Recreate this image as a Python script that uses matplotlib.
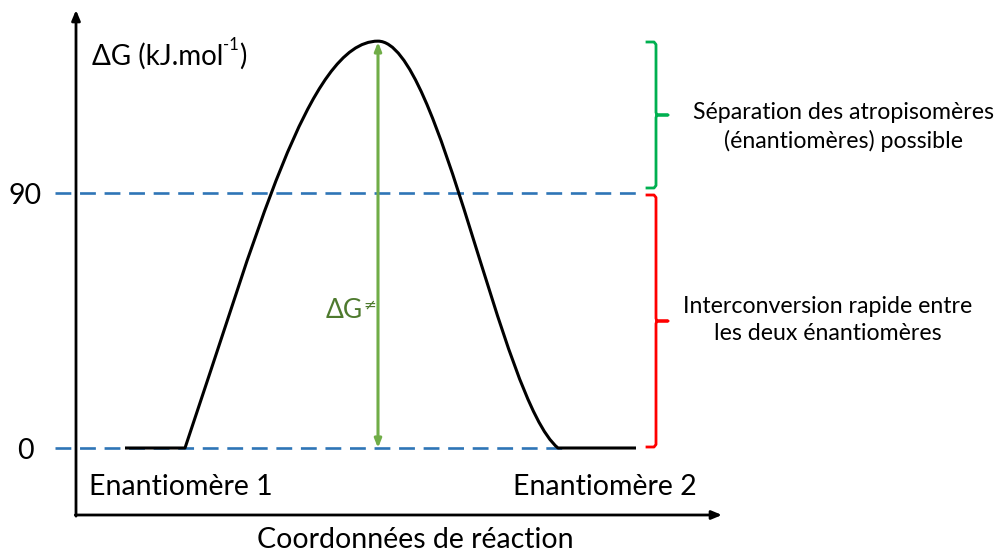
"""Energy profile for atropisomer interconversion (ΔG vs reaction coordinate)."""

import matplotlib
matplotlib.use("Agg")
import matplotlib.pyplot as plt
from matplotlib.path import Path
from matplotlib.patches import PathPatch

# ---------------------------------------------------------------------------
# Data (reaction coordinate in arbitrary units, energy in kJ/mol)
# ---------------------------------------------------------------------------
# flat wells on each side of the barrier
well_left_x = [125, 185]
well_right_x = [558, 636]
well_g = [0, 0]

# barrier drawn as two cubic Bezier flanks (start, ctrl1, ctrl2, end)
rise_x = [185, 255.6, 308, 378]
rise_g = [0, 73.6, 143.6, 143.6]
fall_x = [378, 440, 500, 558]
fall_g = [143.6, 143.6, 16.9, 0]

threshold = 90           # kJ/mol, separation limit
barrier_x = 378
barrier_top = 143.3

ytick_values = [0, 90]
ytick_labels = ["0", "90"]
state_labels = ["Enantiomère 1", "Enantiomère 2"]
state_x = [181, 605]

zone_text_top = "Séparation des atropisomères\n(énantiomères) possible"
zone_text_bottom = "Interconversion rapide entre\nles deux énantiomères"

# colours
BLUE = "#2E75B6"
GREEN_ARROW = "#70AD47"
GREEN_TEXT = "#4E7A2E"
GREEN_BRACE = "#00B050"
RED = "#FF0000"

plt.rcParams["font.family"] = ["Lato", "DejaVu Sans"]

# layout: 2.8333 px per kJ, zero level at 448 px from the top
PX = 2.8333
Y0 = 448
fig = plt.figure(figsize=(10.02, 5.51), dpi=100)
ax = fig.add_axes([0, 0, 1, 1])
ax.set_xlim(0, 1002)
ax.set_ylim((Y0 - 551) / PX, Y0 / PX)
ax.axis("off")


def g_at(py):
    return (Y0 - py) / PX


# axes with arrows
x_axis_g = g_at(515)
ax.annotate("", xy=(76, g_at(10)), xytext=(76, x_axis_g - 0.4),
            arrowprops=dict(arrowstyle="-|>,head_length=0.6,head_width=0.25",
                            color="black", lw=2.0, shrinkA=0, shrinkB=0))
ax.annotate("", xy=(722, x_axis_g), xytext=(75.3, x_axis_g),
            arrowprops=dict(arrowstyle="-|>,head_length=0.6,head_width=0.25",
                            color="black", lw=2.0, shrinkA=0, shrinkB=0))

# dashed reference levels
ax.plot([55, 640], [threshold, threshold], color=BLUE, lw=1.9,
        dashes=(6, 3.3), zorder=2)
ax.plot([55, 570], [0, 0], color=BLUE, lw=1.9, dashes=(6, 3.3), zorder=2)

# energy profile
verts = ([(well_left_x[0], well_g[0])]
         + list(zip(rise_x, rise_g))
         + list(zip(fall_x[1:], fall_g[1:]))
         + [(well_right_x[1], well_g[1])])
codes = ([Path.MOVETO, Path.LINETO] + [Path.CURVE4] * 3
         + [Path.CURVE4] * 3 + [Path.LINETO])
ax.add_patch(PathPatch(Path(verts, codes), facecolor="none",
                       edgecolor="black", lw=2.2, joinstyle="round", zorder=3))

# barrier arrow
ax.annotate("", xy=(barrier_x, barrier_top), xytext=(barrier_x, 0),
            arrowprops=dict(arrowstyle="<|-|>,head_length=0.5,head_width=0.2",
                            color=GREEN_ARROW, lw=2.2, shrinkA=0, shrinkB=0),
            zorder=4)
dg = ax.text(326, g_at(318), "ΔG", ha="left", va="baseline",
             fontsize=19, color=GREEN_TEXT)
ax.annotate("≠", xy=(1, 0.42), xycoords=dg, xytext=(0.3, 0),
            textcoords="offset points", ha="left", va="bottom",
            fontsize=11, color=GREEN_TEXT, family=["DejaVu Sans"])


def brace(x, top, bottom, color):
    mid = (top + bottom) / 2
    t = 2.5 / PX
    xs = [x - 9, x - 2, x, x, x + 1, x + 12, x + 1, x, x, x - 2, x - 9]
    ys = [top, top, top - t, mid + t, mid, mid, mid, mid - t, bottom + t, bottom, bottom]
    ax.plot(xs, ys, color=color, lw=2.0, solid_joinstyle="round")


brace(656, g_at(42), g_at(188), GREEN_BRACE)
brace(656, g_at(195), g_at(447), RED)

ax.text(844, g_at(127), zone_text_top, ha="center", va="center",
        fontsize=16.7, linespacing=1.34)
ax.text(828, g_at(320), zone_text_bottom, ha="center", va="center",
        fontsize=16.7, linespacing=1.3)

# y label with superscript
lab = ax.text(92, g_at(65), "ΔG (kJ.mol", ha="left", va="baseline",
              fontsize=20)
sup = ax.annotate("-1", xy=(1, 0.62), xycoords=lab, ha="left", va="bottom",
                  fontsize=12)
ax.annotate(")", xy=(1, 0), xycoords=(sup, lab), ha="left", va="bottom",
            fontsize=20)

for v, txt in zip(ytick_values, ytick_labels):
    ax.text(25, v - 1, txt, ha="center", va="center", fontsize=20.5)
for x, txt in zip(state_x, state_labels):
    ax.text(x, g_at(487), txt, ha="center", va="center", fontsize=20.5)
ax.text(415, g_at(540), "Coordonnées de réaction", ha="center",
        va="center", fontsize=20.5)

fig.savefig("out.png", dpi=100)
